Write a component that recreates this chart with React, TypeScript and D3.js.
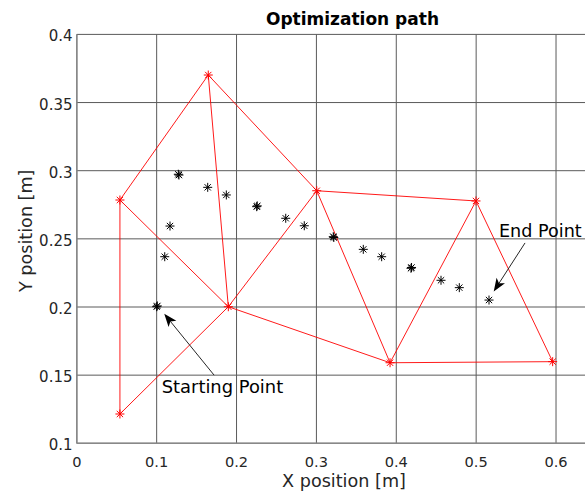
import React from "react";
import * as d3 from "d3";

// Simplex vertices (red)
const simplexX = [0.054, 0.054, 0.1646, 0.1897, 0.3004, 0.3922, 0.4998, 0.5958];
const simplexY = [0.2785, 0.1215, 0.3702, 0.2002, 0.2853, 0.1591, 0.2778, 0.1599];
// Triangles as index triples into the simplex vertices
const triangles = [
  [0, 1, 3],
  [0, 2, 3],
  [2, 3, 4],
  [3, 4, 5],
  [4, 5, 6],
  [5, 6, 7],
];

// Path points (black)
const pathX = [
  0.1, 0.1008, 0.1101, 0.1167, 0.1271, 0.1279, 0.1639, 0.1872, 0.2252, 0.2259,
  0.2616, 0.2848, 0.3211, 0.3218, 0.3587, 0.3817, 0.4184, 0.4191, 0.456, 0.4789, 0.5161,
];
const pathY = [
  0.2002, 0.2008, 0.2369, 0.2594, 0.2974, 0.2968, 0.2878, 0.2822, 0.2736, 0.2742,
  0.2651, 0.2596, 0.2516, 0.251, 0.2423, 0.2369, 0.2284, 0.229, 0.2196, 0.2142, 0.2051,
];

const xTicks = [0, 0.1, 0.2, 0.3, 0.4, 0.5, 0.6, 0.7];
const xTickLabels = ["0", "0.1", "0.2", "0.3", "0.4", "0.5", "0.6", ""];
const yTicks = [0.1, 0.15, 0.2, 0.25, 0.3, 0.35, 0.4];
const yTickLabels = ["0.1", "0.15", "0.2", "0.25", "0.3", "0.35", "0.4"];

// Annotations in data units
const annotLabels = ["Starting Point", "End Point"];
const annotTextX = [0.1063, 0.5286];
const annotTextY = [0.137, 0.2515];
const arrowFromX = [0.1719, 0.5612];
const arrowFromY = [0.15, 0.247];
const arrowToX = [0.1095, 0.522];
const arrowToY = [0.195, 0.2114];

const W = 585;
const H = 497;
const FONT = "'DejaVu Sans', Verdana, sans-serif";
const annotSizes = [17.9, 17.6];

function asterisk(r: number) {
  const d = r * 0.7;
  return `M${-r},0L${r},0M0,${-r}L0,${r}M${-d},${-d}L${d},${d}M${-d},${d}L${d},${-d}`;
}

export default function App() {
  const x = d3.scaleLinear().domain([0, 0.7]).range([76.8, 76.8 + 0.7 * 798.7]);
  const y = d3.scaleLinear().domain([0.1, 0.4]).range([443.3, 34.4]);
  const [x0, x1] = x.range();
  const [y0, y1] = y.range();
  const mk = asterisk(4.5);

  // unique edges from triangles (avoid drawing shared edges twice)
  const edgeSet = new Set<string>();
  const edges: [number, number][] = [];
  triangles.forEach((tri) => {
    for (let k = 0; k < 3; k++) {
      const a = tri[k];
      const b = tri[(k + 1) % 3];
      const key = Math.min(a, b) + "-" + Math.max(a, b);
      if (!edgeSet.has(key)) {
        edgeSet.add(key);
        edges.push([a, b]);
      }
    }
  });

  return (
    <svg
      width={W}
      height={H}
      style={{ position: "absolute", left: 0, top: 0, background: "#fff" }}
      fontFamily={FONT}
    >
      <rect x={0} y={0} width={W} height={H} fill="#fff" />
      {/* grid */}
      {xTicks.map((t) => (
        <line key={"gx" + t} x1={x(t)} x2={x(t)} y1={y0} y2={y1} stroke="#5a5a5a" strokeWidth={1} />
      ))}
      {yTicks.map((t) => (
        <line key={"gy" + t} x1={x0} x2={x1} y1={y(t)} y2={y(t)} stroke="#5a5a5a" strokeWidth={1} />
      ))}
      {/* axes */}
      <line x1={x0} x2={x1} y1={y0} y2={y0} stroke="#888" strokeWidth={1.5} />
      <line x1={x0} x2={x0} y1={y0} y2={y1} stroke="#888" strokeWidth={1.5} />
      {/* tick labels */}
      {xTicks.map((t, i) => (
        <text key={"tx" + t} x={x(t)} y={y0 + 24} textAnchor="middle" fontSize={14.6} fill="#262626">
          {xTickLabels[i]}
        </text>
      ))}
      {yTicks.map((t, i) => (
        <text key={"ty" + t} x={72.5} y={y(t) + 2} textAnchor="end" dominantBaseline="central" fontSize={15} fill="#262626">
          {yTickLabels[i]}
        </text>
      ))}
      {/* simplex edges */}
      {edges.map(([a, b], k) => (
        <line
          key={"e" + k}
          x1={x(simplexX[a])}
          y1={y(simplexY[a])}
          x2={x(simplexX[b])}
          y2={y(simplexY[b])}
          stroke="#ff0000"
          strokeWidth={0.9}
        />
      ))}
      {simplexX.map((v, i) => (
        <path key={"sm" + i} d={mk} transform={`translate(${x(v)},${y(simplexY[i])})`} stroke="#ff0000" strokeWidth={1} fill="none" />
      ))}
      {/* path points */}
      {pathX.map((v, i) => (
        <path key={"pm" + i} d={mk} transform={`translate(${x(v)},${y(pathY[i])})`} stroke="#000" strokeWidth={1} fill="none" />
      ))}
      {/* annotations */}
      {annotLabels.map((lab, i) => {
        const fx = x(arrowFromX[i]);
        const fy = y(arrowFromY[i]);
        const tx = x(arrowToX[i]);
        const ty = y(arrowToY[i]);
        const ang = Math.atan2(ty - fy, tx - fx);
        const L = 13;
        const hw = 5;
        const bx = tx - L * Math.cos(ang);
        const by = ty - L * Math.sin(ang);
        const nx = -Math.sin(ang);
        const ny = Math.cos(ang);
        const ix = tx - L * 0.75 * Math.cos(ang);
        const iy = ty - L * 0.75 * Math.sin(ang);
        const head = `M${tx},${ty}L${bx + nx * hw},${by + ny * hw}L${ix},${iy}L${bx - nx * hw},${by - ny * hw}Z`;
        return (
          <g key={"an" + i}>
            <line x1={fx} y1={fy} x2={ix} y2={iy} stroke="#262626" strokeWidth={1} />
            <path d={head} fill="#000" stroke="none" />
            <text x={x(annotTextX[i])} y={y(annotTextY[i])} fontSize={annotSizes[i]} fill="#000">
              {lab}
            </text>
          </g>
        );
      })}
      {/* title and labels */}
      <text x={352.5} y={25} textAnchor="middle" fontSize={17} fontWeight="bold" fill="#000">
        Optimization path
      </text>
      <text x={344} y={487} textAnchor="middle" fontSize={17.6} fill="#262626">
        X position [m]
      </text>
      <text transform={`translate(31.5,292) rotate(-90)`} textAnchor="start" fontSize={17.6} fill="#262626">
        Y position [m]
      </text>
    </svg>
  );
}
